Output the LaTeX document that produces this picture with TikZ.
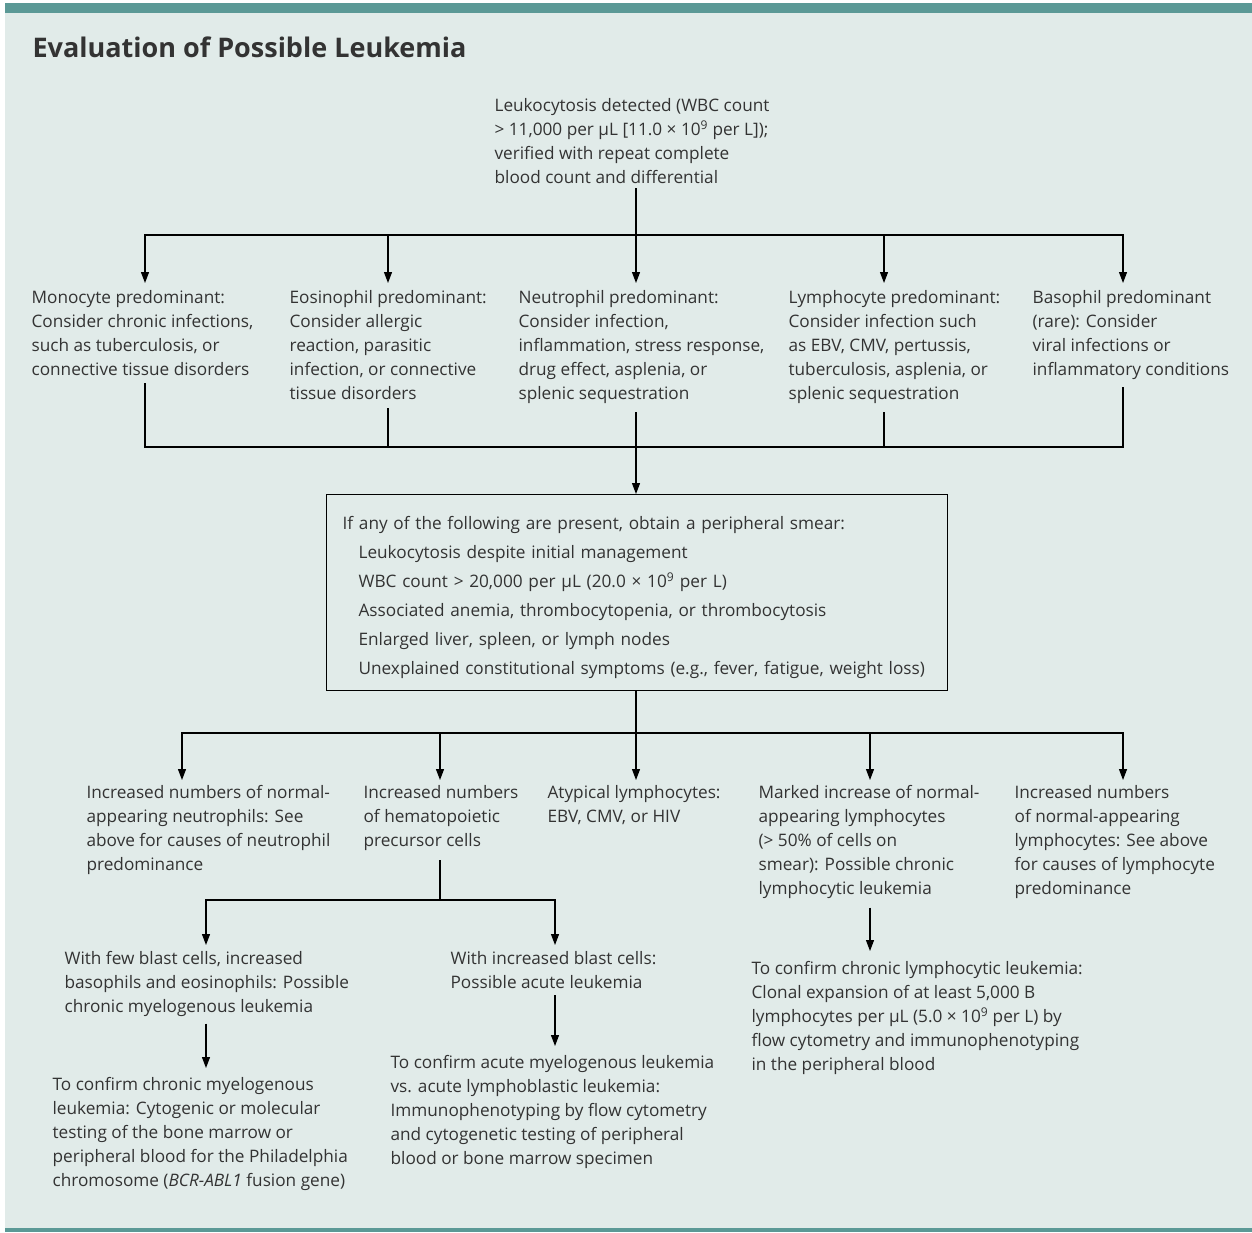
\documentclass[tikz,border=0pt]{standalone}
\usepackage{fontspec}
\setmainfont{Open Sans}
\usetikzlibrary{arrows.meta}
\definecolor{bgteal}{HTML}{E1EBE9}
\definecolor{barteal}{HTML}{5B9996}
\definecolor{txtgrey}{HTML}{333333}

\begin{document}
\begin{tikzpicture} [
  x=1pt,
  y=-1pt,
  line width=1.2pt,
  txt/.style={anchor=north west, inner sep=0pt, align=left, text=txtgrey, font=\fontsize{17.2}{24}\selectfont},
  arr/.style={-{Triangle[length=11pt,width=8pt]}}
  ]
  \useasboundingbox (0,0) rectangle (1252,1232);
  \fill[bgteal] (5,3) rectangle (1252,1232);
  \fill[barteal] (5,3) rectangle (1252,13);
  \fill[barteal] (5,1228) rectangle (1252,1232);

  \node(title)[anchor=base west, inner sep=0pt, text=txtgrey, font=\fontsize{27}{30}\selectfont\bfseries, at={(32,57)}]{Evaluation of Possible Leukemia};

  \node(detect)[txt, at={(494,98)}]{Leukocytosis detected (WBC count\\> 11,000 per µL [11.0 × 10\textsuperscript{9} per L]);\\verified with repeat complete\\blood count and differential};

  % predominant cell type
  \node(mono)[txt, at={(31,290)}]{Monocyte predominant:\\Consider chronic infections,\\such as tuberculosis, or\\connective tissue disorders};
  \node(eos)[txt, at={(289,290)}]{Eosinophil predominant:\\Consider allergic\\reaction, parasitic\\infection, or connective\\tissue disorders};
  \node(neut)[txt, at={(518,290)}]{Neutrophil predominant:\\Consider infection,\\inflammation, stress response,\\drug effect, asplenia, or\\splenic sequestration};
  \node(lym)[txt, at={(788,290)}]{Lymphocyte predominant:\\Consider infection such\\as EBV, CMV, pertussis,\\tuberculosis, asplenia, or\\splenic sequestration};
  \node(baso)[txt, at={(1032,290)}]{Basophil predominant\\(rare): Consider\\viral infections or\\inflammatory conditions};

  \node(smear)[draw, anchor=north west, at={(326,494)}, minimum width=621pt, minimum height=196pt, text width=589pt, inner xsep=16pt, inner ysep=0pt, align=left, text=txtgrey, font=\fontsize{17.2}{29}\selectfont]{\rule{0pt}{23pt}If any of the following are present, obtain a peripheral smear:\\\hspace*{16pt}Leukocytosis despite initial management\\\hspace*{16pt}WBC count > 20,000 per µL (20.0 × 10\textsuperscript{9} per L)\\\hspace*{16pt}Associated anemia, thrombocytopenia, or thrombocytosis\\\hspace*{16pt}Enlarged liver, spleen, or lymph nodes\\\hspace*{16pt}Unexplained constitutional symptoms (e.g., fever, fatigue, weight loss)};

  % smear findings
  \node(neutinc)[txt, at={(86,785)}]{Increased numbers of normal-\\appearing neutrophils: See\\above for causes of neutrophil\\predominance};
  \node(hemat)[txt, at={(363,785)}]{Increased numbers\\of hematopoietic\\precursor cells};
  \node(atyp)[txt, at={(547,785)}]{Atypical lymphocytes:\\EBV, CMV, or HIV};
  \node(marked)[txt, at={(758,785)}]{Marked increase of normal-\\appearing lymphocytes\\(> 50\% of cells on\\smear): Possible chronic\\lymphocytic leukemia};
  \node(lyminc)[txt, at={(1014,785)}]{Increased numbers\\of normal-appearing\\lymphocytes: See above\\for causes of lymphocyte\\predominance};

  \node(fewblast)[txt, at={(64,951)}]{With few blast cells, increased\\basophils and eosinophils: Possible\\chronic myelogenous leukemia};
  \node(incblast)[txt, at={(450,951)}]{With increased blast cells:\\Possible acute leukemia};

  \node(cmlconf)[txt, at={(52,1077)}]{To confirm chronic myelogenous\\leukemia: Cytogenic or molecular\\testing of the bone marrow or\\peripheral blood for the Philadelphia\\chromosome (\textit{BCR-ABL1} fusion gene)};
  \node(amlconf)[txt, at={(390,1055)}]{To confirm acute myelogenous leukemia\\vs. acute lymphoblastic leukemia:\\Immunophenotyping by flow cytometry\\and cytogenetic testing of peripheral\\blood or bone marrow specimen};
  \node(cllconf)[txt, at={(751,961)}]{To confirm chronic lymphocytic leukemia:\\Clonal expansion of at least 5,000 B\\lymphocytes per µL (5.0 × 10\textsuperscript{9} per L) by\\flow cytometry and immunophenotyping\\in the peripheral blood};

  \coordinate(bus1) at (636,235);
  \coordinate(bus2) at (636,447);
  \coordinate(bus3) at (636,733);
  \coordinate(bus4) at (440,900);

  \draw (detect.south -| bus1) ++(0,4) -- (bus1);
  \draw[arr] (bus1) -| ([shift={(114pt,7pt)}]mono.north west);
  \draw[arr] (bus1) -| ([shift={(99pt,7pt)}]eos.north west);
  \draw[arr] (bus1) -- ([shift={(118pt,7pt)}]neut.north west);
  \draw[arr] (bus1) -| ([shift={(96pt,7pt)}]lym.north west);
  \draw[arr] (bus1) -| ([shift={(91pt,7pt)}]baso.north west);

  \draw ([shift={(114pt,-7pt)}]mono.south west) |- (bus2);
  \draw ([shift={(99pt,-8pt)}]eos.south west) |- (bus2);
  \draw ([shift={(96pt,-8pt)}]lym.south west) |- (bus2);
  \draw ([shift={(91pt,-7pt)}]baso.south west) |- (bus2);
  \draw[arr] ([shift={(118pt,-8pt)}]neut.south west) -- (bus2 |- smear.north);

  \draw (smear.south -| bus3) -- (bus3);
  \draw[arr] (bus3) -| ([shift={(96pt,5pt)}]neutinc.north west);
  \draw[arr] (bus3) -| ([shift={(77pt,5pt)}]hemat.north west);
  \draw[arr] (bus3) -- ([shift={(89pt,5pt)}]atyp.north west);
  \draw[arr] (bus3) -| ([shift={(112pt,5pt)}]marked.north west);
  \draw[arr] (bus3) -| ([shift={(109pt,5pt)}]lyminc.north west);

  \draw ([shift={(77pt,-9pt)}]hemat.south west) -- (bus4);
  \draw[arr] (bus4) -| ([shift={(142pt,6pt)}]fewblast.north west);
  \draw[arr] (bus4) -| ([shift={(105pt,6pt)}]incblast.north west);

  \draw[arr] ([shift={(142pt,-6pt)}]fewblast.south west) -- ([shift={(154pt,9pt)}]cmlconf.north west);
  \draw[arr] ([shift={(105pt,-6pt)}]incblast.south west) -- ([shift={(165pt,9pt)}]amlconf.north west);
  \draw[arr] ([shift={(112pt,-8pt)}]marked.south west) -- ([shift={(119pt,10pt)}]cllconf.north west);
\end{tikzpicture}
\end{document}
